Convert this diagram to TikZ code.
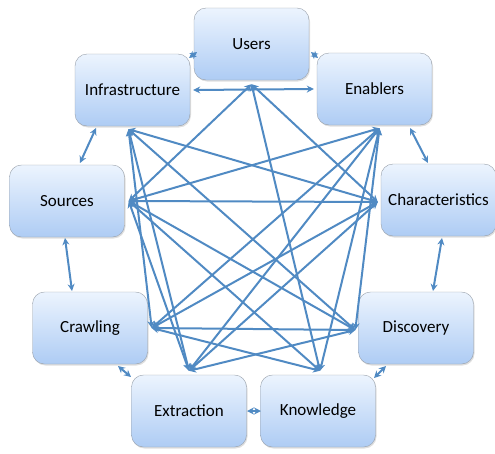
\documentclass[tikz,border=0pt]{standalone}
\usepackage{fontspec}
\setmainfont{Carlito}
\usetikzlibrary{arrows.meta,shadows}

\definecolor{linkblue}{RGB}{80,138,195}
\definecolor{boxtop}{RGB}{236,244,254}
\definecolor{boxbot}{RGB}{174,204,244}
\definecolor{boxline}{RGB}{150,158,168}

\begin{document}
\begin{tikzpicture}[x=1pt, y=-1pt, >={Stealth[length=7pt,width=7pt]},
    main/.style = {draw=boxline, rounded corners=12pt, minimum width=115pt, minimum height=72pt,
        top color=boxtop, bottom color=boxbot, font=\fontsize{17}{19}\selectfont,
        drop shadow={shadow xshift=1pt, shadow yshift=-1.5pt, opacity=0.25}},
    link/.style = {draw=linkblue, line width=2pt}]

    \useasboundingbox (0,0) rectangle (495,453);

    \node[main] (1) at (251.5,44) {Users};
    \node[main] (2) at (132.5,90) {Infrastructure};
    \node[main] (3) at (374.5,89) {Enablers};
    \node[main] (4) at (67,201) {Sources};
    \node[main] (5) at (438.5,200) {Characteristics};
    \node[main] (6) at (90,328) {Crawling};
    \node[main] (7) at (416,328) {Discovery};
    \node[main] (8) at (189,411) {Extraction};
    \node[main] (9) at (318,411) {Knowledge};

    % hub points where the inner links meet each box
    \coordinate (1h) at ([yshift=-4pt]1.south);
    \coordinate (2h) at ([xshift=-4pt,yshift=-3pt]2.south);
    \coordinate (3h) at ([xshift=5pt,yshift=-3pt]3.south);
    \coordinate (4h) at ([xshift=4pt]4.east);
    \coordinate (5h) at ([xshift=-3pt,yshift=-2pt]5.west);
    \coordinate (6h) at ([xshift=4pt]6.east);
    \coordinate (7h) at ([xshift=-3pt,yshift=-2pt]7.west);
    \coordinate (8h) at ([yshift=4pt]8.north);
    \coordinate (9h) at ([xshift=2pt,yshift=4pt]9.north);
    \coordinate (2e) at ([xshift=3pt]2.east);
    \coordinate (3w) at ([xshift=-3pt]3.west);

    % ends of the links round the ring
    \coordinate (12a) at (189,58);  \coordinate (12b) at (197,52);
    \coordinate (13a) at (311,52);  \coordinate (13b) at (318,58);
    \coordinate (24a) at (96,128);  \coordinate (24b) at (80,163);
    \coordinate (35a) at (410,128); \coordinate (35b) at (428,163);
    \coordinate (46a) at (65,238);  \coordinate (46b) at (72,291);
    \coordinate (57a) at (442,238); \coordinate (57b) at (433,291);
    \coordinate (68a) at (118,366); \coordinate (68b) at (131,377);
    \coordinate (79a) at (386,366); \coordinate (79b) at (374,378);
    \coordinate (89a) at (247,411); \coordinate (89b) at (261,411);

    \draw[link, <->] (12a) to (12b);
    \draw[link, <->] (13a) to (13b);
    \draw[link, <->] (24a) to (24b);
    \draw[link, <->] (35a) to (35b);
    \draw[link, <->] (46a) to (46b);
    \draw[link, <->] (57a) to (57b);
    \draw[link, <->] (68a) to (68b);
    \draw[link, <->] (79a) to (79b);
    \draw[link, <->] (89a) to (89b);
    \draw[link, <->] (2e) to (3w);

    \draw[link, <->] (1h) to (4h);
    \draw[link, <->] (1h) to (5h);
    \draw[link, <->] (1h) to (9h);
    \draw[link, <->] (2h) to (5h);
    \draw[link, <->] (2h) to (7h);
    \draw[link, <->] (2h) to (6h);
    \draw[link, <->] (2h) to (8h);
    \draw[link, <->] (3h) to (4h);
    \draw[link, <->] (3h) to (6h);
    \draw[link, <->] (3h) to (8h);
    \draw[link, <->] (3h) to (9h);
    \draw[link, <->] (3h) to (7h);
    \draw[link, <->] (4h) to (5h);
    \draw[link, <->] (4h) to (7h);
    \draw[link, <->] (4h) to (9h);
    \draw[link, <->] (4h) to (8h);
    \draw[link, <->] (5h) to (6h);
    \draw[link, <->] (5h) to (8h);
    \draw[link, <->] (6h) to (7h);
    \draw[link, <->] (6h) to (9h);
    \draw[link, <->] (7h) to (8h);

\end{tikzpicture}
\end{document}
